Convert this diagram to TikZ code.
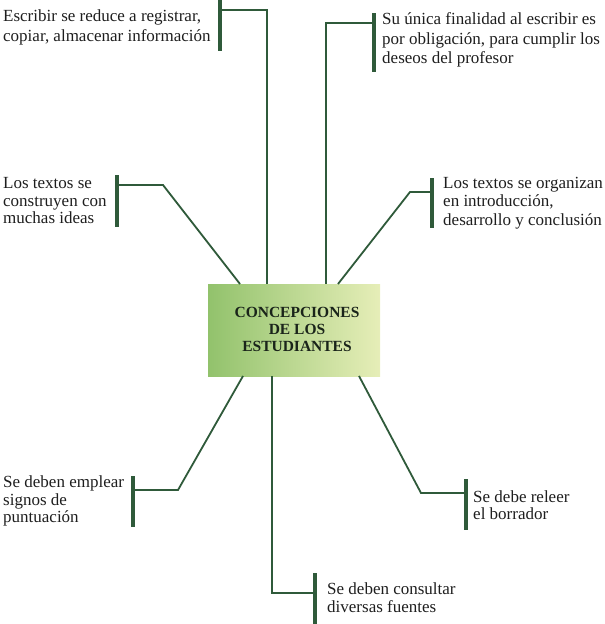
\documentclass[tikz,border=0pt]{standalone}
\usepackage{fontspec}
\setmainfont{Liberation Serif}
\definecolor{ln}{HTML}{2F5A3A}
\definecolor{gdark}{HTML}{92C26C}
\definecolor{gmid}{HTML}{C2DC94}
\definecolor{glight}{HTML}{E6EEB8}
\definecolor{txt}{HTML}{1E1E1E}
\definecolor{ctxt}{HTML}{1A241A}
\begin{document}
\begin{tikzpicture}[x=1pt,y=-1pt,
  conn/.style={draw=ln, line width=1.8pt},
  barline/.style={draw=ln, line width=4pt},
  lbl/.style={align=left, inner sep=0pt, anchor=west, text=txt,
    font=\fontsize{17}{19.5}\selectfont}]
\useasboundingbox (0,0) rectangle (605,624);
% central box
\node[minimum width=172pt, minimum height=92pt, inner sep=0pt,
  left color=gdark, middle color=gmid, right color=glight] (c) at (294,330) {};
\node[font=\bfseries\fontsize{15.5}{17}\selectfont, align=center, text=ctxt, inner sep=0pt]
  (ct) at (297,329) {CONCEPCIONES\\DE LOS\\ESTUDIANTES};
% labels
\node[lbl, font=\fontsize{17}{20}\selectfont] (t1) at (3,27) {Escribir se reduce a registrar,\\copiar, almacenar información};
\node[lbl] (t2) at (382,40) {Su única finalidad al escribir es\\por obligación, para cumplir los\\deseos del profesor};
\node[lbl, font=\fontsize{17}{17.5}\selectfont] (t3) at (3,201) {Los textos se\\construyen con\\muchas ideas};
\node[lbl, font=\fontsize{17}{18.5}\selectfont] (t4) at (443,203) {Los textos se organizan\\en introducción,\\desarrollo y conclusión};
\node[lbl, font=\fontsize{17}{17.5}\selectfont] (t5) at (3,501) {Se deben emplear\\signos de\\puntuación};
\node[lbl, font=\fontsize{17}{17.5}\selectfont] (t6) at (473,505) {Se debe releer\\el borrador};
\node[lbl, font=\fontsize{17}{18}\selectfont] (t7) at (327,598) {Se deben consultar\\diversas fuentes};
% bars
\coordinate (b1a) at (220,-2); \coordinate (b1b) at (220,51);
\coordinate (b2a) at (374,13); \coordinate (b2b) at (374,72);
\coordinate (b3a) at (117,175); \coordinate (b3b) at (117,227);
\coordinate (b4a) at (432,178); \coordinate (b4b) at (432,228);
\coordinate (b5a) at (133,476); \coordinate (b5b) at (133,527);
\coordinate (b6a) at (466,479); \coordinate (b6b) at (466,530);
\coordinate (b7a) at (315,573); \coordinate (b7b) at (315,626);
\foreach \i in {1,...,7} {\draw[barline] (b\i a) -- (b\i b);}
% junctions on bars and bends
\coordinate (j1) at (220,10);  \coordinate (k1) at (267,10);
\coordinate (j2) at (374,23);  \coordinate (k2) at (326,23);
\coordinate (j3) at (117,185); \coordinate (k3) at (163,185); \coordinate (e3) at (240,284);
\coordinate (j4) at (432,192); \coordinate (k4) at (410,192); \coordinate (e4) at (338,284);
\coordinate (j5) at (133,490); \coordinate (k5) at (178,490); \coordinate (e5) at (243,376);
\coordinate (j6) at (466,493); \coordinate (k6) at (421,493); \coordinate (e6) at (359,376);
\coordinate (j7) at (315,593); \coordinate (k7) at (272,593);
\draw[conn] (j1) -- (k1) -- (k1 |- c.north);
\draw[conn] (j2) -- (k2) -- (k2 |- c.north);
\draw[conn] (j3) -- (k3) -- (e3);
\draw[conn] (j4) -- (k4) -- (e4);
\draw[conn] (j5) -- (k5) -- (e5);
\draw[conn] (j6) -- (k6) -- (e6);
\draw[conn] (j7) -- (k7) -- (k7 |- c.south);
\end{tikzpicture}
\end{document}
